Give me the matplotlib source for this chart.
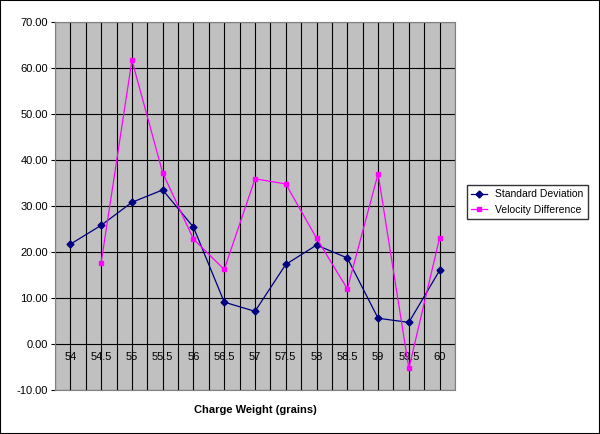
import numpy as np
import matplotlib.pyplot as plt
from matplotlib.patches import Rectangle

categories = ["54","54.5","55","55.5","56","56.5","57","57.5","58","58.5","59","59.5","60"]
std_dev = [21.7,25.8,30.8,33.5,25.4,9.1,7.1,17.3,21.5,18.7,5.6,4.7,16.0]
vel_diff = [np.nan,17.7,61.7,37.2,22.8,16.2,35.9,34.8,23.0,12.0,37.0,-5.3,23.1]

fig = plt.figure(figsize=(6,4.34), dpi=100)
ax = fig.add_axes([55/600, 44/434, 400/600, 368/434])
ax.set_facecolor('#c0c0c0')
x = np.arange(len(categories))
ax.set_xlim(-0.5, len(categories)-0.5)
ax.set_ylim(-10, 70)
for v in np.arange(-0.5, len(categories), 0.5):
    ax.axvline(v, color='black', lw=0.8, zorder=1)
for v in range(-10, 71, 10):
    ax.axhline(v, color='black', lw=0.8, zorder=1)
l1, = ax.plot(x, std_dev, color='#000080', marker='D', ms=3.5, lw=0.9, zorder=3, label='Standard Deviation')
vd = np.array(vel_diff)
m = ~np.isnan(vd)
l2, = ax.plot(x[m], vd[m], color='#ff00ff', marker='s', ms=3.5, lw=0.9, zorder=3, label='Velocity Difference')
ax.set_xticks([])
ax.set_yticks(range(-10, 71, 10))
ax.set_yticklabels([f"{v:.2f}" for v in range(-10, 71, 10)], fontsize=8, family='Liberation Sans')
ax.tick_params(axis='y', length=3, pad=2)
for xi, c in zip(x, categories):
    ax.text(xi, -2.8, c, ha='center', va='center', fontsize=8, family='Liberation Sans', zorder=2)
for s in ax.spines.values():
    s.set_color('#808080')
fig.text(255/600, 1-410/434, 'Charge Weight (grains)', ha='center', va='center', fontsize=8, fontweight='bold', family='Liberation Sans')
fig.legend(handles=[l1, l2], loc='center left', bbox_to_anchor=(462/600, 1-202/434),
           frameon=True, fancybox=False, edgecolor='black', borderpad=0.4,
           handlelength=1.5, prop={'family':'Liberation Sans','size':7.5})
fig.patches.append(Rectangle((0,0),1,1, transform=fig.transFigure, fill=False, edgecolor='black', lw=1.5))
fig.savefig('out.png', dpi=100)
